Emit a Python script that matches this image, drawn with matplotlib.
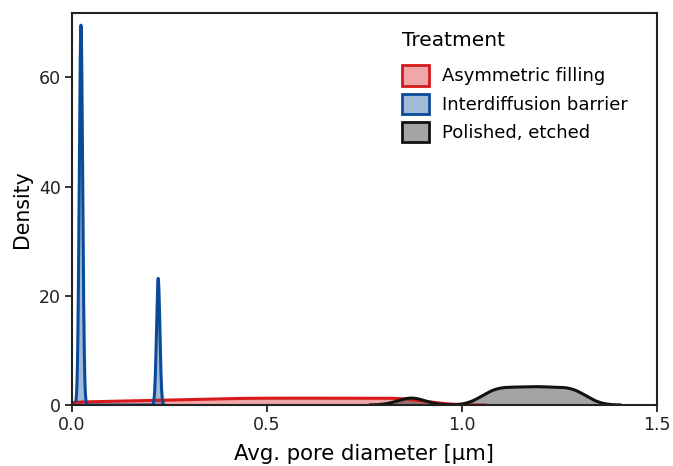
import numpy as np
import matplotlib
matplotlib.use("Agg")
import matplotlib.pyplot as plt
import seaborn as sns
from matplotlib.patches import Patch
from matplotlib.colors import to_rgba

# pore diameters (um) per treatment
asym_filling = [0.02, 0.12, 0.20, 0.27, 0.33, 0.39, 0.44, 0.49, 0.54,
                0.59, 0.64, 0.69, 0.74, 0.79, 0.84, 0.88]
interdiff_barrier = [0.023, 0.023, 0.023, 0.221]
polished_etched = [0.87, 1.07, 1.10, 1.135, 1.17, 1.20, 1.235, 1.27, 1.30]

labels = ["Asymmetric filling", "Interdiffusion barrier", "Polished, etched"]
colors = ["#d7191c", "#0a4a9a", "#111111"]
bandwidths = [0.06, 0.0043, 0.035]   # absolute kde bandwidth per group

xticks = [0.0, 0.5, 1.0, 1.5]
yticks = [0, 20, 40, 60]

plt.rcParams["font.family"] = ["DejaVu Sans"]
plt.rcParams["font.size"] = 12.5

fig = plt.figure(figsize=(6.73, 4.66), dpi=100)
ax = fig.add_axes([72/673, 1-405/466, 585/673, 392/466])

groups = [asym_filling, interdiff_barrier, polished_etched]
for samples, c, bw in zip(groups, colors, bandwidths):
    s = np.asarray(samples)
    factor = bw / np.std(s, ddof=1)
    sns.kdeplot(x=s, bw_method=factor, gridsize=1000, fill=True,
                color=c, alpha=0.38, linewidth=0, ax=ax)
    sns.kdeplot(x=s, bw_method=factor, gridsize=1000, fill=False,
                color=c, linewidth=2.2, ax=ax)

ax.set_xlim(0, 1.5)
ax.set_ylim(0, 71.8)
ax.set_xticks(xticks)
ax.set_xticklabels(["%.1f" % t for t in xticks])
ax.set_yticks(yticks)
ax.set_xlabel("Avg. pore diameter [\u00b5m]", fontsize=15.3, labelpad=7)
ax.set_ylabel("Density", fontsize=14.8, labelpad=5)
ax.tick_params(direction="out", length=5, width=1.3, colors="#222222",
               pad=3)
for sp in ax.spines.values():
    sp.set_linewidth(1.5)
    sp.set_color("#222222")

handles = [Patch(facecolor=to_rgba(c, 0.38), edgecolor=c, linewidth=2)
           for c in colors]
leg = ax.legend(handles, labels, title="Treatment", loc="upper left",
                bbox_to_anchor=(0.537, 0.995), frameon=False,
                alignment="left", fontsize=13, title_fontsize=14.5,
                handlelength=1.45, handleheight=1.36, handletextpad=0.75,
                labelspacing=0.44)
# a bit more room between the title and the entries
leg._legend_box.sep = 10.8

fig.savefig("out.png", dpi=100)
